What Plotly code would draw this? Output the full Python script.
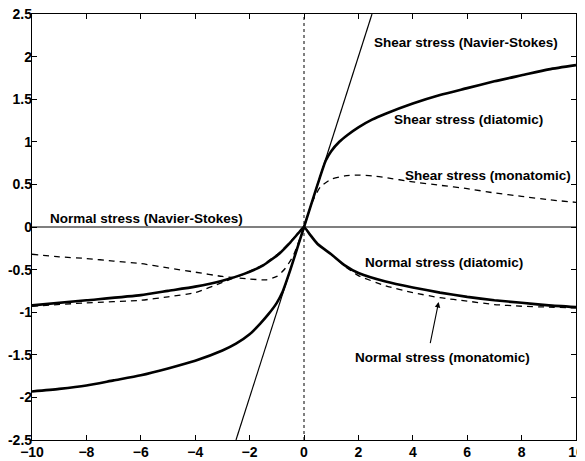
import plotly.graph_objects as go

# Shear stress, diatomic (solid thick)
shear_di_x = [-10, -9, -8, -7, -6, -5, -4, -3, -2.5, -2, -1.6, -1.3, -1, -0.8, -0.5, 0,
              0.5, 0.8, 1, 1.3, 1.6, 2, 2.5, 3, 4, 5, 6, 7, 8, 9, 10]
shear_di_y = [-1.93, -1.90, -1.86, -1.80, -1.74, -1.66, -1.57, -1.45, -1.37, -1.26, -1.13, -1.02, -0.89, -0.77, -0.50, 0,
              0.50, 0.78, 0.89, 1.00, 1.08, 1.17, 1.26, 1.33, 1.45, 1.55, 1.63, 1.71, 1.78, 1.85, 1.90]

# Shear stress, monatomic (dashed)
shear_mono_x = [-10, -9, -8, -7, -6, -5, -4, -3, -2, -1.4, -1, -0.7, -0.4, 0,
                0.3, 0.6, 1, 1.5, 2, 2.5, 3, 4, 5, 6, 7, 8, 9, 10]
shear_mono_y = [-0.32, -0.35, -0.37, -0.40, -0.43, -0.48, -0.53, -0.58, -0.61, -0.62, -0.58, -0.49, -0.34, 0,
                0.29, 0.47, 0.56, 0.60, 0.61, 0.60, 0.58, 0.53, 0.49, 0.45, 0.40, 0.36, 0.32, 0.29]

# Normal stress, diatomic (solid thick)
normal_di_x = [-10, -8, -6, -5, -4, -3, -2.2, -1.5, -0.9, -0.5, -0.2, 0,
               0.2, 0.5, 1, 1.5, 2, 3, 4, 5, 6, 7, 8, 9, 10]
normal_di_y = [-0.92, -0.86, -0.80, -0.75, -0.70, -0.63, -0.55, -0.45, -0.31, -0.18, -0.07, 0,
               -0.08, -0.20, -0.32, -0.45, -0.54, -0.64, -0.71, -0.77, -0.82, -0.86, -0.89, -0.92, -0.94]

# Normal stress, monatomic (dashed)
normal_mono_x = [-10, -8, -6, -5, -4, -3, -2.2, -1.5, -0.9, -0.5, -0.2, 0,
                 0.2, 0.5, 1, 1.5, 2, 3, 4, 5, 6, 7, 8, 9, 10]
normal_mono_y = [-0.93, -0.89, -0.86, -0.82, -0.77, -0.65, -0.55, -0.44, -0.30, -0.17, -0.07, 0,
                 -0.08, -0.20, -0.32, -0.46, -0.57, -0.69, -0.77, -0.83, -0.87, -0.91, -0.93, -0.94, -0.95]

# Navier-Stokes
ns_shear_x = [-2.5, 2.5]
ns_shear_y = [-2.5, 2.5]
ns_normal_x = [-10, 10]
ns_normal_y = [0, 0]

x_ticks = [-10, -8, -6, -4, -2, 0, 2, 4, 6, 8, 10]
y_ticks = [-2.5, -2, -1.5, -1, -0.5, 0, 0.5, 1, 1.5, 2, 2.5]
y_ticktext = ["-2.5", "-2", "-1.5", "-1", "-0.5", "0", "0.5", "1", "1.5", "2", "2.5"]

fig = go.Figure()

fig.add_trace(go.Scatter(x=[0, 0], y=[-2.5, 2.5], mode="lines",
                         line=dict(color="black", width=1, dash="dot")))
fig.add_trace(go.Scatter(x=ns_normal_x, y=ns_normal_y, mode="lines",
                         line=dict(color="black", width=1.2)))
fig.add_trace(go.Scatter(x=ns_shear_x, y=ns_shear_y, mode="lines",
                         line=dict(color="black", width=1.2)))
fig.add_trace(go.Scatter(x=shear_di_x, y=shear_di_y, mode="lines",
                         line=dict(color="black", width=2.6, shape="spline", smoothing=0.6)))
fig.add_trace(go.Scatter(x=shear_mono_x, y=shear_mono_y, mode="lines",
                         line=dict(color="black", width=1.3, dash="6px,5px", shape="spline", smoothing=0.6)))
fig.add_trace(go.Scatter(x=normal_di_x, y=normal_di_y, mode="lines",
                         line=dict(color="black", width=2.6, shape="spline", smoothing=0.5)))
fig.add_trace(go.Scatter(x=normal_mono_x, y=normal_mono_y, mode="lines",
                         line=dict(color="black", width=1.3, dash="6px,5px", shape="spline", smoothing=0.5)))

font_ann = dict(family="Liberation Sans, Arial", size=13.5, color="black", weight="bold")
labels = [
    ("Shear stress (Navier-Stokes)", 2.5, 2.16),
    ("Shear stress (diatomic)", 3.24, 1.26),
    ("Shear stress (monatomic)", 3.64, 0.61),
    ("Normal stress (Navier-Stokes)", -9.4, 0.10),
    ("Normal stress (diatomic)", 2.17, -0.42),
    ("Normal stress (monatomic)", 1.8, -1.53),
]
for text, ax_, ay_ in labels:
    fig.add_annotation(x=ax_, y=ay_, text=text, showarrow=False, xanchor="left",
                       yanchor="middle", font=font_ann)

fig.add_annotation(x=4.95, y=-0.88, ax=4.63, ay=-1.38, xref="x", yref="y",
                   axref="x", ayref="y", showarrow=True, arrowhead=2,
                   arrowsize=1, arrowwidth=1.1, arrowcolor="black", text="")

axis_common = dict(showgrid=False, zeroline=False, showline=True, linecolor="black",
                   linewidth=1.3, mirror="ticks", ticks="inside", ticklen=5,
                   tickcolor="black", automargin=False, ticklabeloverflow="allow",
                   tickfont=dict(family="Liberation Sans, Arial", size=14,
                                 color="black", weight="bold"))

# the page body adds an 8px offset; the figure is sized so the plot area
# lands at the same place as in the reference
fig.update_layout(
    width=577, height=453,
    margin=dict(l=24, r=9, t=6, b=21, autoexpand=False),
    paper_bgcolor="white", plot_bgcolor="white",
    showlegend=False,
    xaxis=dict(range=[-10, 10], tickvals=x_ticks, ticklabelstandoff=-1, **axis_common),
    yaxis=dict(range=[-2.5, 2.5], tickvals=y_ticks, ticktext=y_ticktext,
               ticklabelstandoff=-4, **axis_common),
)

fig.write_html("out.html")
